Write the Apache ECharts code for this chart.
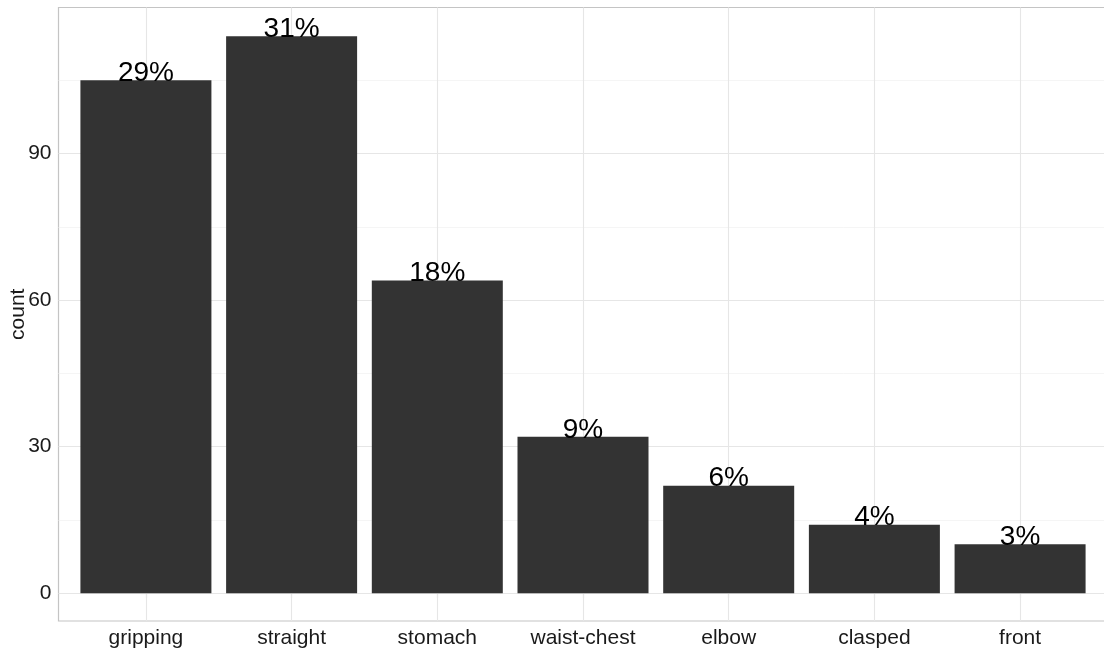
<!DOCTYPE html>
<html>
<head>
<meta charset="utf-8">
<script src="https://cdn.jsdelivr.net/npm/echarts@6/dist/echarts.min.js"></script>
<style>
html,body{margin:0;padding:0;background:#fff;}
#chart{width:1104px;height:655px;}
</style>
</head>
<body>
<div id="chart"></div>
<script>
const categories = ['gripping', 'straight', 'stomach', 'waist-chest', 'elbow', 'clasped', 'front'];
const counts = [105, 114, 64, 32, 22, 14, 10];
const pctLabels = ['29%', '31%', '18%', '9%', '6%', '4%', '3%'];
const yTicks = [0, 30, 60, 90];
const yMinor = [15, 45, 75, 105];

const font = 'Liberation Sans, Arial, sans-serif';
const chart = echarts.init(document.getElementById('chart'), null, {renderer: 'canvas'});

const barData = counts.map((v, i) => [i, v]);
const xIdx = categories.map((c, i) => i);

const gridLines = [];
yMinor.forEach(v => gridLines.push({yAxis: v, lineStyle: {color: '#F2F2F2', width: 0.8, type: 'solid'}}));
yTicks.forEach(v => gridLines.push({yAxis: v, lineStyle: {color: '#E6E6E6', width: 1.1, type: 'solid'}}));
xIdx.forEach(v => gridLines.push({xAxis: v, lineStyle: {color: '#E6E6E6', width: 1.1, type: 'solid'}}));

chart.setOption({
  animation: false,
  backgroundColor: '#ffffff',
  grid: {
    left: 58.5, top: 7.5, width: 1049, height: 613.5,
    outerBoundsMode: 'none',
    show: true, borderColor: '#C4C4C4', borderWidth: 1.2, backgroundColor: 'transparent', containLabel: false
  },
  xAxis: {
    type: 'value', min: -0.6, max: 6.6,
    axisLine: {show: false},
    splitLine: {show: false},
    axisTick: {show: true, customValues: xIdx, length: 5, lineStyle: {color: '#B3B3B3', width: 1.1}},
    axisLabel: {
      customValues: xIdx, color: '#1a1a1a', fontSize: 21, fontFamily: font, margin: 7,
      formatter: v => categories[Math.round(v)]
    }
  },
  yAxis: {
    type: 'value', min: -5.7, max: 119.9,
    name: 'count', nameLocation: 'middle', nameGap: 30, nameRotate: 90,
    nameMoveOverlap: false,
    nameTextStyle: {color: '#1a1a1a', fontSize: 21, fontFamily: font},
    axisLine: {show: false},
    splitLine: {show: false},
    axisTick: {show: true, customValues: yTicks, length: 5, lineStyle: {color: '#B3B3B3', width: 1.1}},
    axisLabel: {customValues: yTicks, color: '#1a1a1a', fontSize: 21, fontFamily: font, margin: 7}
  },
  series: [{
    type: 'bar',
    data: barData,
    barWidth: 131,
    itemStyle: {color: '#333333'},
    z: 3,
    label: {
      show: true, position: 'top', distance: -7,
      formatter: p => pctLabels[p.dataIndex],
      color: '#000', fontSize: 28, fontFamily: font
    },
    markLine: {
      silent: true, symbol: 'none', z: 1,
      label: {show: false},
      data: gridLines
    }
  }]
});
</script>
</body>
</html>
